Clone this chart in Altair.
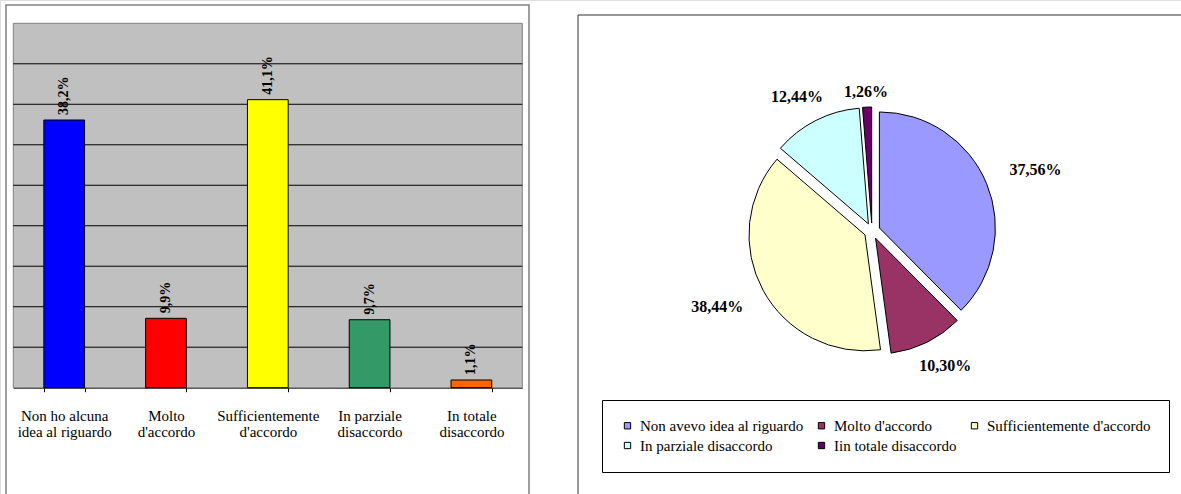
import altair as alt
import pandas as pd

# ---- data -------------------------------------------------------------
bar_categories = [
    "Non ho alcuna\nidea al riguardo",
    "Molto\nd'accordo",
    "Sufficientemente\nd'accordo",
    "In parziale\ndisaccordo",
    "In totale\ndisaccordo",
]
bar_values = [38.2, 9.9, 41.1, 9.7, 1.1]
bar_colors = ["#0000FF", "#FF0000", "#FFFF00", "#339966", "#FF6600"]

pie_categories = [
    "Non avevo idea al riguardo",
    "Molto d'accordo",
    "Sufficientemente d'accordo",
    "In parziale disaccordo",
    "Iin totale disaccordo",
]
pie_values = [37.56, 10.30, 38.44, 12.44, 1.26]
pie_colors = ["#9999FF", "#993366", "#FFFFCC", "#CCFFFF", "#660066"]

# ---- layout -----------------------------------------------------------
W, H = 1181, 494
SERIF = "Liberation Serif"
PX0, PX1, PY0, PY1 = 13.3, 522.3, 23.3, 387.7   # bar plot area
Y_MAX = 52
GRID_STEPS = 9
PIE_CX, PIE_CY, PIE_R, EXPLODE = 872, 231, 116, 8
LABEL_STRETCH_X = 1.1   # labels sit on a slightly wider ring than the pie

one = pd.DataFrame({"k": [0]})

bars_df = pd.DataFrame({"cat": bar_categories, "value": bar_values})
grid_df = pd.DataFrame({"v": [Y_MAX * k / GRID_STEPS for k in range(1, GRID_STEPS)]})
pie_df = pd.DataFrame({"name": pie_categories, "value": pie_values,
                       "order": list(range(len(pie_values)))})

y_scale = alt.Scale(domain=[0, Y_MAX], range=[PY1, PY0], nice=False, zero=True)
x_enc = alt.X(
    "cat:N",
    sort=bar_categories,
    scale=alt.Scale(range=[PX0, PX1], paddingInner=0.6, paddingOuter=0.3),
    axis=alt.Axis(
        title=None, orient="bottom", offset=PY1 - H,
        domainColor="black", domainWidth=1,
        tickColor="black", tickSize=4, tickWidth=1, tickBand="extent",
        labelAngle=0, labelExpr="split(datum.label, '\\n')",
        labelFont=SERIF, labelFontSize=15, labelColor="black",
        labelPadding=17, labelLineHeight=16, labelOverlap=False, grid=False,
    ),
)

# ---- frames and plot background ---------------------------------------
left_frame = alt.Chart(one).mark_rect(fillOpacity=0, stroke="#808080", strokeWidth=1.5).encode(
    x=alt.value(6), x2=alt.value(529), y=alt.value(5), y2=alt.value(H + 20)
)
right_frame = alt.Chart(one).mark_rect(fillOpacity=0, stroke="#333333", strokeWidth=1).encode(
    x=alt.value(578), x2=alt.value(W + 20), y=alt.value(15), y2=alt.value(H + 20)
)
plot_bg = alt.Chart(one).mark_rect(fill="#C0C0C0", stroke="#808080", strokeWidth=1).encode(
    x=alt.value(PX0), x2=alt.value(PX1), y=alt.value(PY0), y2=alt.value(PY1)
)

grid = alt.Chart(grid_df).mark_rule(color="black", strokeWidth=1).encode(
    y=alt.Y("v:Q", scale=y_scale, axis=None),
    x=alt.value(PX0), x2=alt.value(PX1),
)

# ---- bar chart --------------------------------------------------------
bars = alt.Chart(bars_df).mark_bar(stroke="black", strokeWidth=1).encode(
    x=x_enc,
    y=alt.Y("value:Q", scale=y_scale, axis=None),
    color=alt.Color("cat:N", scale=alt.Scale(domain=bar_categories, range=bar_colors), legend=None),
)

bar_text = alt.Chart(bars_df).transform_calculate(
    label="replace(format(datum.value, '.1f'), '.', ',') + '%'"
).mark_text(
    angle=270, align="left", baseline="middle", dx=5,
    font=SERIF, fontSize=14, fontWeight="bold", color="black",
).encode(
    x=x_enc,
    y=alt.Y("value:Q", scale=y_scale, axis=None),
    text="label:N",
)

# ---- exploded pie -----------------------------------------------------
pie_base = alt.Chart(pie_df).transform_window(
    cum="sum(value)", sort=[alt.SortField("order")], frame=[None, 0]
).transform_joinaggregate(
    total="sum(value)"
).transform_calculate(
    a0="2*PI*(datum.cum - datum.value)/datum.total",
    a1="2*PI*datum.cum/datum.total",
).transform_calculate(
    mid="(datum.a0 + datum.a1)/2"
).transform_calculate(
    cx=f"{PIE_CX} + {EXPLODE}*sin(datum.mid)",
    cy=f"{PIE_CY} - {EXPLODE}*cos(datum.mid)",
)

pie = pie_base.mark_arc(outerRadius=PIE_R, stroke="black", strokeWidth=1).encode(
    x=alt.X("cx:Q", scale=None, axis=None),
    y=alt.Y("cy:Q", scale=None, axis=None),
    theta=alt.Theta("a0:Q", scale=None),
    theta2="a1:Q",
    color=alt.Color(
        "name:N",
        scale=alt.Scale(domain=pie_categories, range=pie_colors),
        legend=alt.Legend(
            title=None, orient="none", legendX=602, legendY=400,
            direction="horizontal", columns=3,
            symbolType="square", symbolSize=40,
            symbolStrokeColor="black", symbolStrokeWidth=1,
            labelFont=SERIF, labelFontSize=15, labelColor="black",
            labelLimit=400, labelOffset=5,
            columnPadding=10, rowPadding=4, padding=18,
            strokeColor="black",
        ),
    ),
)

pie_text = pie_base.transform_calculate(
    lr=f"{PIE_R + EXPLODE + 6} + 30*abs(sin(datum.mid)) + 8*abs(cos(datum.mid))",
    label="replace(format(datum.value, '.2f'), '.', ',') + '%'",
).transform_calculate(
    lx=f"{PIE_CX} + {LABEL_STRETCH_X}*datum.lr*sin(datum.mid)",
    ly=f"{PIE_CY} - datum.lr*cos(datum.mid)",
).mark_text(
    font=SERIF, fontSize=16, fontWeight="bold", color="black", baseline="middle"
).encode(
    x=alt.X("lx:Q", scale=None, axis=None),
    y=alt.Y("ly:Q", scale=None, axis=None),
    text="label:N",
)

chart = alt.layer(
    left_frame, right_frame, plot_bg, grid, bars, bar_text, pie, pie_text
).resolve_scale(
    color="independent"
).properties(
    width=W, height=H, padding=0,
    autosize=alt.AutoSizeParams(type="none"),
).configure_view(
    strokeWidth=0
).configure(
    background="white"
)

chart.save("out.html", embed_options={"renderer": "svg", "actions": False})
